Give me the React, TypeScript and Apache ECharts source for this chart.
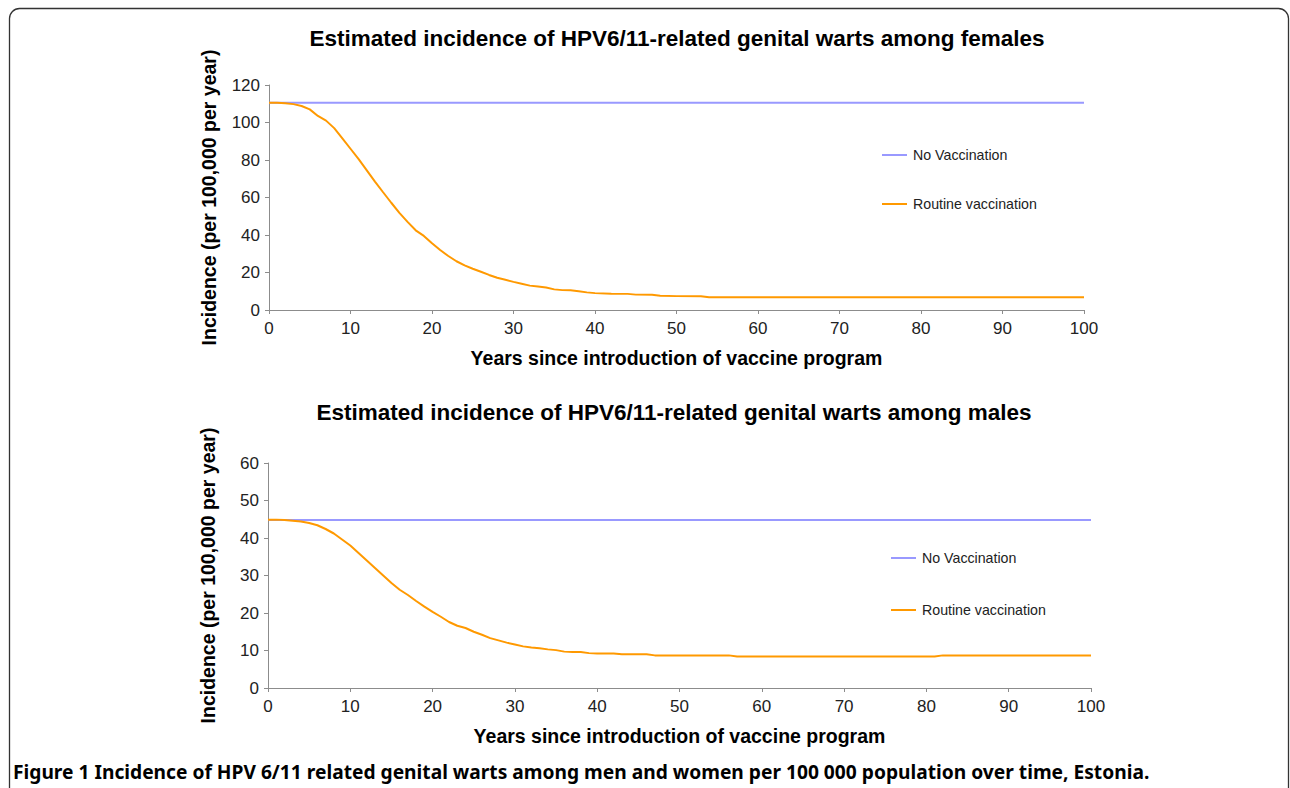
import React, { useEffect, useRef } from "react";
import * as echarts from "echarts";

const seriesNames = ["No Vaccination", "Routine vaccination"];

const femaleYears = [0, 1, 2, 3, 4, 5, 6, 7, 8, 9, 10, 11, 12, 13, 14, 15, 16, 17, 18, 19, 20, 21, 22, 23, 24, 25, 26, 27, 28, 29, 30, 31, 32, 33, 34, 35, 36, 37, 38, 39, 40, 42, 44, 45, 47, 48, 50, 53, 54, 60, 70, 80, 90, 100];
const femaleRoutine = [110.5, 110.5, 110.3, 109.8, 108.8, 107, 103.5, 101, 97, 91.5, 86, 80.5, 74.5, 68.5, 62.8, 57.2, 51.8, 47, 42.5, 39.5, 35.6, 32, 28.8, 26, 23.8, 22, 20.4, 18.7, 17.2, 16.1, 15, 14, 13, 12.5, 12, 11, 10.6, 10.5, 10, 9.4, 9, 8.7, 8.6, 8.2, 8.1, 7.6, 7.4, 7.3, 6.8, 6.8, 6.8, 6.8, 6.8, 6.8];
const femaleNoVacYears = [0, 100];
const femaleNoVac = [110.5, 110.5];

const maleYears = [0, 1, 2, 3, 4, 5, 6, 7, 8, 9, 10, 11, 12, 13, 14, 15, 16, 17, 18, 19, 20, 21, 22, 23, 24, 25, 26, 27, 28, 29, 30, 31, 32, 33, 34, 35, 36, 37, 38, 39, 40, 42, 43, 46, 47, 56, 57, 81, 82, 100];
const maleRoutine = [44.9, 44.9, 44.8, 44.6, 44.4, 44, 43.4, 42.4, 41.2, 39.6, 38, 36, 34, 32, 30, 28, 26.2, 24.8, 23.2, 21.7, 20.3, 19, 17.6, 16.6, 16, 15, 14.2, 13.3, 12.7, 12.1, 11.6, 11.1, 10.8, 10.6, 10.3, 10.1, 9.7, 9.6, 9.6, 9.3, 9.2, 9.2, 9.0, 9.0, 8.7, 8.7, 8.4, 8.4, 8.7, 8.7];
const maleNoVacYears = [0, 100];
const maleNoVac = [44.8, 44.8];

const titles = [
  "Estimated incidence of HPV6/11-related genital warts among females",
  "Estimated incidence of HPV6/11-related genital warts among males",
];
const yAxisTitle = "Incidence (per 100,000 per year)";
const xAxisTitle = "Years since introduction of vaccine program";
const captionBold = "Figure 1";
const captionText = " Incidence of HPV 6/11 related genital warts among men and women per 100 000 population over time, Estonia.";

const pairs = (xs: number[], ys: number[]) => xs.map((x, i) => [x, ys[i]]);

const FONT = "'Liberation Sans', Arial, Helvetica, sans-serif";
const NO_VAC_COLOR = "#9999ff";
const ROUTINE_COLOR = "#ff9900";

export default function App() {
  const ref = useRef<HTMLDivElement>(null);
  useEffect(() => {
    if (!ref.current) return;
    const chart = echarts.init(ref.current, undefined, { renderer: "svg" });

    const axisCommon = {
      axisLine: { show: true, lineStyle: { color: "#8c8c8c", width: 1 } },
      axisTick: { show: true, length: 4, lineStyle: { color: "#8c8c8c" } },
      splitLine: { show: false },
      axisLabel: { color: "#222", fontSize: 17, fontFamily: FONT },
    };

    const xAxis = (gridIndex: number) => ({
      ...axisCommon,
      type: "value",
      gridIndex,
      min: 0,
      max: 100,
      interval: 10,
      axisLabel: { ...axisCommon.axisLabel, margin: 10 },
      name: xAxisTitle,
      nameLocation: "middle",
      nameGap: 38,
      nameTextStyle: { color: "#000", fontSize: 19.5, fontWeight: "bold", fontFamily: FONT },
    });

    const yAxis = (gridIndex: number, max: number, interval: number) => ({
      ...axisCommon,
      type: "value",
      gridIndex,
      min: 0,
      max,
      interval,
      axisLabel: { ...axisCommon.axisLabel, margin: 9 },
      name: yAxisTitle,
      nameLocation: "middle",
      nameGap: 50,
      nameTextStyle: { color: "#000", fontSize: 19.5, fontWeight: "bold", fontFamily: FONT },
    });

    const line = (name: string, data: number[][], color: string, idx: number) => ({
      type: "line",
      name,
      xAxisIndex: idx,
      yAxisIndex: idx,
      data,
      showSymbol: false,
      symbol: "none",
      lineStyle: { color, width: 2 },
      itemStyle: { color },
      z: name === seriesNames[0] ? 2 : 3,
    });

    const legend = (left: number, top: number, gap: number) => ({
      orient: "vertical",
      left,
      top,
      padding: 0,
      icon: "rect",
      itemWidth: 25,
      itemHeight: 2,
      itemGap: gap,
      data: seriesNames,
      textStyle: { color: "#222", fontSize: 14.2, fontFamily: FONT, padding: [0, 0, 0, 1] },
      selectedMode: false,
    });

    chart.setOption({
      animation: false,
      backgroundColor: "#fff",
      grid: [
        { left: 269, top: 85, width: 815, height: 225 },
        { left: 268, top: 463, width: 823, height: 225 },
      ],
      xAxis: [xAxis(0), xAxis(1)],
      yAxis: [yAxis(0, 120, 20), yAxis(1, 60, 10)],
      legend: [legend(882, 148, 35), legend(891, 551, 38)],
      series: [
        line(seriesNames[0], pairs(femaleNoVacYears, femaleNoVac), NO_VAC_COLOR, 0),
        line(seriesNames[1], pairs(femaleYears, femaleRoutine), ROUTINE_COLOR, 0),
        line(seriesNames[0], pairs(maleNoVacYears, maleNoVac), NO_VAC_COLOR, 1),
        line(seriesNames[1], pairs(maleYears, maleRoutine), ROUTINE_COLOR, 1),
      ],
      graphic: [
        {
          type: "rect",
          silent: true,
          shape: { x: 9.5, y: 8.5, width: 1279, height: 800, r: 10 },
          style: { fill: "none", stroke: "#333", lineWidth: 1.3 },
          z: -1,
        },
        {
          type: "text",
          x: 677,
          y: 38,
          style: {
            text: titles[0],
            fill: "#000",
            font: `bold 22.5px ${FONT}`,
            textAlign: "center",
            textVerticalAlign: "middle",
          },
        },
        {
          type: "text",
          x: 674,
          y: 412,
          style: {
            text: titles[1],
            fill: "#000",
            font: `bold 22.5px ${FONT}`,
            textAlign: "center",
            textVerticalAlign: "middle",
          },
        },
        {
          type: "text",
          x: 13,
          y: 771,
          style: {
            text: `{b|${captionBold}}{r|${captionText}}`,
            textVerticalAlign: "middle",
            rich: {
              b: { font: `bold 19.2px 'Noto Sans', sans-serif`, fill: "#000" },
              r: { font: `bold 19.2px 'Noto Sans', sans-serif`, fill: "#000" },
            },
          },
        },
      ],
    });
    return () => chart.dispose();
  }, []);

  return (
    <div
      ref={ref}
      style={{ position: "absolute", left: 0, top: 0, width: 1290, height: 788, background: "#fff" }}
    />
  );
}
